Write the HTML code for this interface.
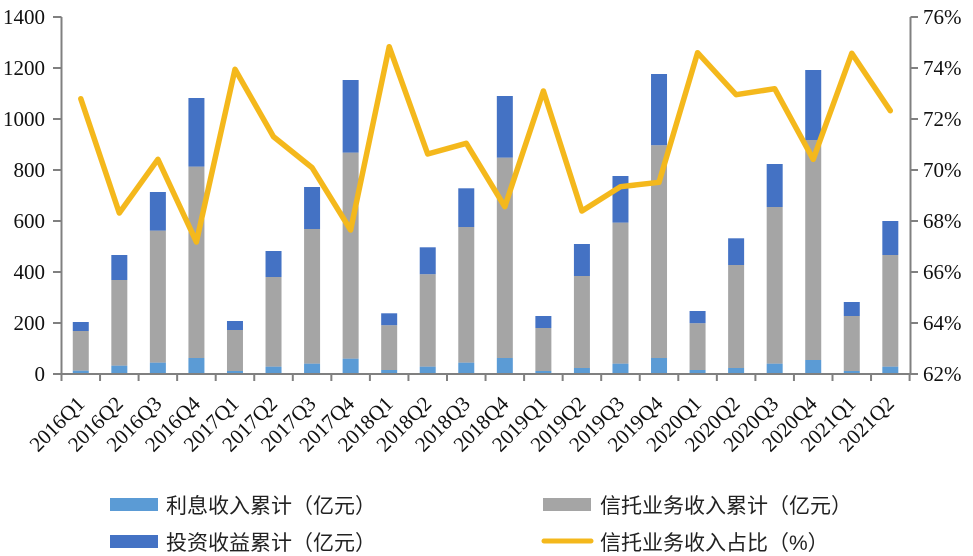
<!DOCTYPE html>
<html>
<head>
<meta charset="utf-8">
<style>
  html,body{margin:0;padding:0;background:#fff;}
  svg{display:block;}
  .ax{font-family:"Liberation Serif","Times New Roman",serif;font-size:20px;fill:#111;}
  .lg{font-family:"Liberation Sans","Noto Sans CJK SC",sans-serif;font-size:21px;fill:#222;}
</style>
</head>
<body>
<svg width="973" height="556" viewBox="0 0 973 556" xmlns="http://www.w3.org/2000/svg">
  <rect width="973" height="556" fill="#fff"/>
  <g id="bars"></g>
  <g id="axes"></g>
  <g id="line"></g>
  <g id="labels"></g>

  <!-- Legend -->
  <rect x="110" y="498" width="48" height="13" fill="#5B9BD5"/>
  <text class="lg" x="166" y="513">利息收入累计（亿元）</text>
  <rect x="110" y="535" width="48" height="13" fill="#4472C4"/>
  <text class="lg" x="166" y="550">投资收益累计（亿元）</text>
  <rect x="543" y="498" width="48" height="13" fill="#A5A5A5"/>
  <text class="lg" x="600" y="513">信托业务收入累计（亿元）</text>
  <line x1="544" y1="541" x2="591" y2="541" stroke="#F4B81C" stroke-width="5" stroke-linecap="round"/>
  <text class="lg" x="600" y="550">信托业务收入占比（%）</text>
</svg>
<script>
(function(){
  var NS="http://www.w3.org/2000/svg";
  function el(tag,attrs,parent,text){
    var e=document.createElementNS(NS,tag);
    for(var k in attrs) e.setAttribute(k,attrs[k]);
    if(text!==undefined) e.textContent=text;
    parent.appendChild(e); return e;
  }
  var x0=61.5, step=38.55, base=373.5;
  var cats=["2016Q1","2016Q2","2016Q3","2016Q4","2017Q1","2017Q2","2017Q3","2017Q4","2018Q1","2018Q2","2018Q3","2018Q4","2019Q1","2019Q2","2019Q3","2019Q4","2020Q1","2020Q2","2020Q3","2020Q4","2021Q1","2021Q2"];
  var bars=[[322,331,370.7],[255,280,365.7],[192,230.7,362.7],[98,166.7,358],[321,330,371],[251,277,366.7],[187,229,363.7],[80,152.7,358.7],[313.3,325.3,370],[247.3,274.3,366.7],[188.3,227,362.7],[96,157.7,358],[316,328,371],[244,276,368],[176,222.7,363.7],[74,145.3,358],[311,323.3,370],[238.3,265,368],[164,207,363.7],[70,140,360],[302,316,371],[221,255,366.7]];
  var ly=[98.7,213,159.3,242,69.3,136.7,167.7,230,46.7,154,143.3,206.7,91,211,186.7,182.3,52.7,94.7,88.7,159.3,53.3,110.7];
  var gb=document.getElementById("bars");
  var ga=document.getElementById("axes");
  var gl=document.getElementById("line");
  var gt=document.getElementById("labels");
  var pts=[];
  for(var i=0;i<cats.length;i++){
    var cx=x0+(i+0.5)*step, bx=cx-8, w=16, b=bars[i];
    el("rect",{x:bx,y:b[0],width:w,height:b[1]-b[0],fill:"#4472C4"},gb);
    el("rect",{x:bx,y:b[1],width:w,height:b[2]-b[1],fill:"#A5A5A5"},gb);
    el("rect",{x:bx,y:b[2],width:w,height:base-b[2],fill:"#5B9BD5"},gb);
    pts.push(cx.toFixed(1)+","+ly[i]);
    var px=cx+5, py=405;
    el("text",{"class":"ax","text-anchor":"end",transform:"translate("+px.toFixed(1)+","+py+") rotate(-45)",style:"font-size:21px"},gt,cats[i]);
  }
  // axes
  var ac="#808080";
  el("line",{x1:61.5,y1:17,x2:61.5,y2:374.5,stroke:ac,"stroke-width":2},ga);
  el("line",{x1:910.5,y1:17,x2:910.5,y2:374.5,stroke:ac,"stroke-width":2},ga);
  el("line",{x1:60.5,y1:374,x2:911.5,y2:374,stroke:ac,"stroke-width":2},ga);
  for(var k=0;k<8;k++){
    var y=17+k*51;
    el("line",{x1:53,y1:y,x2:61.5,y2:y,stroke:ac,"stroke-width":2},ga);
    el("line",{x1:910.5,y1:y,x2:918,y2:y,stroke:ac,"stroke-width":2},ga);
    el("text",{"class":"ax","text-anchor":"end",x:45,y:y+7,style:"font-size:21px"},gt,String(1400-k*200));
    el("text",{"class":"ax",x:923,y:y+7,style:"font-size:21px"},gt,(76-k*2)+"%");
  }
  for(var j=0;j<=22;j++){
    var tx=x0+j*step;
    el("line",{x1:tx,y1:374,x2:tx,y2:381,stroke:ac,"stroke-width":2},ga);
  }
  el("polyline",{points:pts.join(" "),fill:"none",stroke:"#F4B81C","stroke-width":5.5,"stroke-linejoin":"round","stroke-linecap":"round"},gl);
})();
</script>
</body>
</html>
